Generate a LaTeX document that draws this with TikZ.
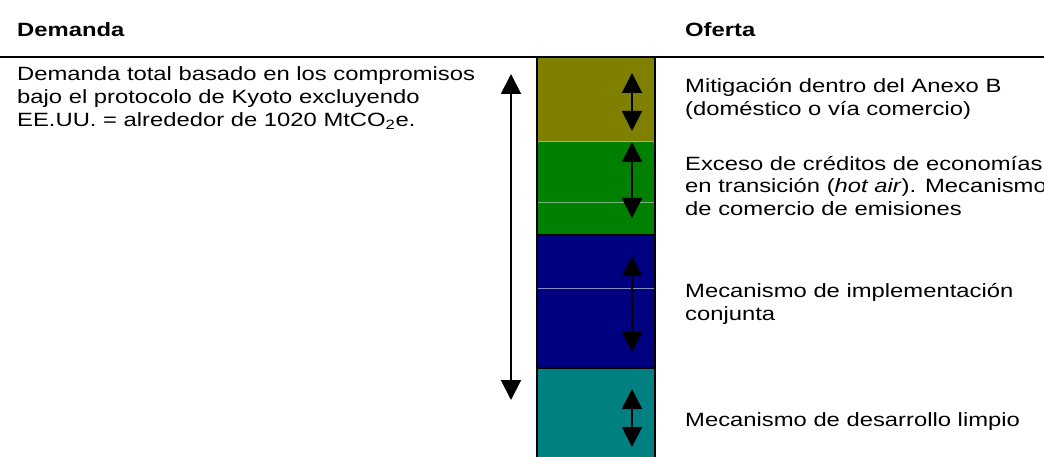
\documentclass[tikz,border=0pt]{standalone}
\usepackage{fontspec}
\setmainfont{Liberation Sans}[FakeStretch=1.24]
\usetikzlibrary{arrows.meta}
\definecolor{olivebar}{HTML}{808000}
\definecolor{greenbar}{HTML}{008000}
\definecolor{navybar}{HTML}{000080}
\definecolor{tealbar}{HTML}{008080}

\begin{document}
\begin{tikzpicture}[x=1pt,y=-1pt,
  txt/.style={anchor=base west,inner sep=0pt,align=left,font=\fontsize{19.2}{23}\selectfont},
  dbl/.style={line width=2pt,{Triangle[width=20pt,length=20pt]}-{Triangle[width=20pt,length=20pt]}}]
\useasboundingbox (0,0) rectangle (1044,457);
\fill[olivebar] (537,57) rectangle (655,141);
\fill[greenbar] (537,141) rectangle (655,235);
\fill[navybar] (537,235) rectangle (655,368);
\fill[tealbar] (537,368) rectangle (655,457);
\draw[line width=0.8pt,olivebar!60!white] (537,141) -- (655,141);
\draw[line width=0.8pt,greenbar!55!white] (537,202) -- (655,202);
\draw[line width=0.8pt,navybar!45!white] (537,288) -- (655,288);
\draw[line width=2pt] (537,57) -- (537,457) (655,57) -- (655,457) (537,235) -- (655,235) (537,368) -- (655,368);
\draw[line width=2.5pt] (0,57) -- (1044,57);
\node[txt,font=\fontsize{19.2}{23}\selectfont\bfseries] (dem) at (17,36.7) {Demanda};
\node[txt,font=\fontsize{19.2}{23}\selectfont\bfseries] (ofe) at (685,36.7) {Oferta};
\node[txt] (total) at (17,126.5) {Demanda total basado en los compromisos\\bajo el protocolo de Kyoto excluyendo\\EE.UU. = alrededor de 1020 MtCO\textsubscript{2}e.};
\node[txt] (mit) at (685,116) {Mitigación dentro del Anexo B\\(doméstico o vía comercio)};
\node[txt] (exc) at (685,216) {Exceso de créditos de economías\\en transición (\textit{hot air}). Mecanismo\\de comercio de emisiones};
\node[txt] (ic) at (685,320) {Mecanismo de implementación\\conjunta};
\node[txt] (mdl) at (685,426) {Mecanismo de desarrollo limpio};
\coordinate (top) at (511,74);
\coordinate (bot) at (511,400);
\draw[dbl] (top) -- (bot);
\foreach \a/\b [count=\i] in {73/131,142/218,256/352,389/447}
  \draw[dbl] (632,\a) coordinate (up\i) -- (632,\b) coordinate (dn\i);
\end{tikzpicture}
\end{document}
